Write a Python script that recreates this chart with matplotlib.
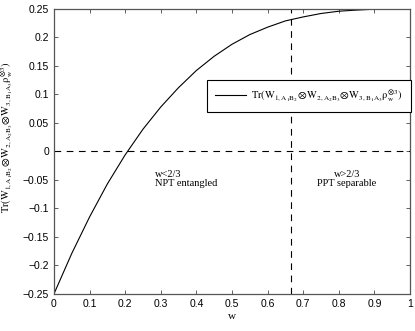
import numpy as np
import matplotlib.pyplot as plt

plt.rcParams['mathtext.fontset'] = 'stix'

# values
w = [0.0, 0.05, 0.1, 0.15, 0.2, 0.25, 0.3, 0.35, 0.4, 0.45, 0.5,
     0.55, 0.6, 0.65, 0.7, 0.75, 0.8, 0.85, 0.9, 0.95, 1.0]
tr = [-0.25, -0.179, -0.115, -0.057, -0.006, 0.039, 0.078, 0.112, 0.142,
      0.167, 0.188, 0.205, 0.218, 0.229, 0.236, 0.242, 0.246, 0.248,
      0.2495, 0.25, 0.25]
w_crit = 2 / 3
xticks = np.arange(0, 1.01, 0.1)
yticks = np.arange(-0.25, 0.251, 0.05)

label = (r'$\mathrm{Tr(W_{1,A_1B_2}\!\otimes\! W_{2,A_2B_3}'
         r'\!\otimes\! W_{3,B_1A_3}\rho_w^{\otimes 3})}$')

fig = plt.figure(figsize=(4.15, 3.31), dpi=100)
ax = fig.add_axes([0.130, 0.112, 0.858, 0.861])

ax.plot(w, tr, color='black', lw=0.8, label=label)
ax.axhline(0, color='black', ls=(0, (6, 5)), lw=0.8)
ax.axvline(w_crit, color='black', ls=(0, (6, 5)), lw=0.8)

ax.text(0.284, -0.032, 'w<2/3\nNPT entangled', fontsize=7.5,
        family='Liberation Serif', va='top', ha='left', linespacing=1.1)
ax.text(0.823, -0.032, 'w>2/3\nPPT separable', fontsize=7.5,
        family='Liberation Serif', va='top', ha='center', linespacing=1.1)

ax.set_xlim(0, 1)
ax.set_ylim(-0.25, 0.25)
ax.set_xticks(xticks)
ax.set_yticks(yticks)
ax.set_xticklabels(['0', '0.1', '0.2', '0.3', '0.4', '0.5', '0.6', '0.7',
                    '0.8', '0.9', '1'])
ax.set_yticklabels(['\u22120.25', '\u22120.2', '\u22120.15', '\u22120.1',
                    '\u22120.05', '0', '0.05', '0.1', '0.15', '0.2', '0.25'])
ax.tick_params(direction='in', top=True, right=True, labelsize=7.5,
               length=3, width=0.6, colors='#444444', labelcolor='black')
for lab in ax.get_xticklabels() + ax.get_yticklabels():
    lab.set_family('Liberation Sans')
for s in ax.spines.values():
    s.set_color('#555555')
    s.set_linewidth(0.9)

ax.set_xlabel('w', family='Liberation Serif', fontsize=8, labelpad=2)
ax.set_ylabel(label, fontsize=7.5)
ax.yaxis.set_label_coords(-0.11, 0.55)

leg = ax.legend(loc='upper left', bbox_to_anchor=(0.43, 0.751),
                borderaxespad=0, fancybox=False, edgecolor='black',
                fontsize=7.5, handlelength=2.9, framealpha=1,
                borderpad=0.8, handletextpad=0.5)
leg.get_frame().set_linewidth(0.8)

fig.savefig('out.png', dpi=100)
